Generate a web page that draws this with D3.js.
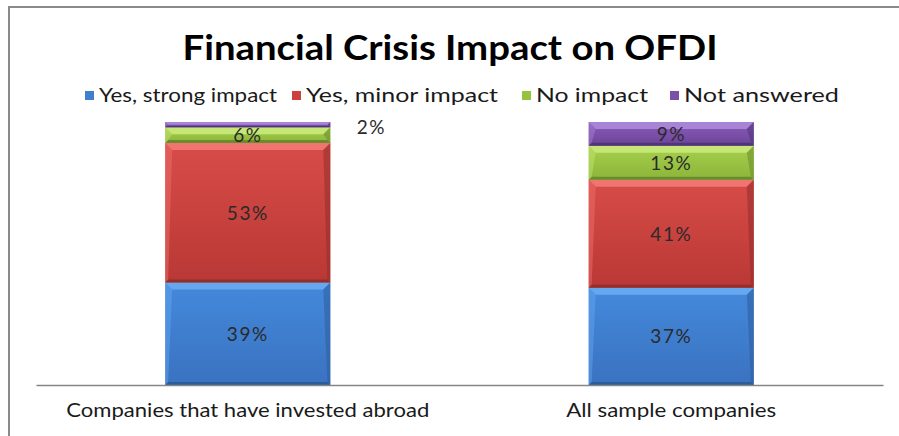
<!DOCTYPE html>
<html>
<head>
<meta charset="utf-8">
<script src="https://cdn.jsdelivr.net/npm/d3@7"></script>
<style>
  body { margin: 0; background: #fff; }
  svg { display: block; }
  text { font-family: Lato, "Open Sans", sans-serif; }
</style>
</head>
<body>
<svg id="chart" width="899" height="436"></svg>
<script>
// Survey: has the financial crisis affected outward FDI plans?
const categories = ["Companies that have invested abroad", "All sample companies"];
const seriesNames = ["Yes, strong impact", "Yes, minor impact", "No impact", "Not answered"];
const strongImpact = [39, 37];
const minorImpact = [53, 41];
const noImpact = [6, 13];
const notAnswered = [2, 9];
const seriesKeys = ["strong", "minor", "none", "na"];

// Bevelled fills for each series: face top, face bottom, top bevel, bottom bevel, legend swatch
const palette = {
  strong: { top: "#4489dc", bottom: "#3a72c0", bevel: "#66a8f0", dark: "#2d5c9c", legend: "#3f7fd0" },
  minor:  { top: "#d84c48", bottom: "#b93835", bevel: "#f07470", dark: "#922e2c", legend: "#cc4040" },
  none:   { top: "#a6d04c", bottom: "#8cb53a", bevel: "#c6e676", dark: "#6a8c2c", legend: "#99c23c" },
  na:     { top: "#8a5cba", bottom: "#6c4498", bevel: "#a884d6", dark: "#51357a", legend: "#7a50a8" }
};

const rows = categories.map((c, i) => ({
  category: c,
  strong: strongImpact[i],
  minor: minorImpact[i],
  none: noImpact[i],
  na: notAnswered[i]
}));

const svg = d3.select("#chart");
const W = 899, H = 436;

const defs = svg.append("defs");
seriesKeys.forEach(k => {
  const g = defs.append("linearGradient")
    .attr("id", "grad-" + k)
    .attr("x1", 0).attr("y1", 0).attr("x2", 0).attr("y2", 1);
  g.append("stop").attr("offset", "0%").attr("stop-color", palette[k].top);
  g.append("stop").attr("offset", "100%").attr("stop-color", palette[k].bottom);
});

// Chart frame
svg.append("rect")
  .attr("x", 9).attr("y", 7)
  .attr("width", W + 10).attr("height", H + 10)
  .attr("fill", "none")
  .attr("stroke", "#8a8a8a")
  .attr("stroke-width", 2);

// Title
svg.append("text")
  .attr("x", 450).attr("y", 60)
  .attr("text-anchor", "middle")
  .attr("font-size", 35)
  .attr("font-weight", "bold")
  .attr("fill", "#000")
  .attr("textLength", 535)
  .attr("lengthAdjust", "spacingAndGlyphs")
  .text("Financial Crisis Impact on OFDI");

// Legend
const legendX = [85, 292, 522, 670];
const legendTextW = [178, 192, 112, 155];
const legend = svg.append("g");
seriesKeys.forEach((k, i) => {
  const g = legend.append("g").attr("transform", `translate(${legendX[i]},0)`);
  g.append("rect")
    .attr("x", 0).attr("y", 91)
    .attr("width", 9).attr("height", 9)
    .attr("fill", palette[k].legend);
  g.append("text")
    .attr("x", 14).attr("y", 102)
    .attr("font-size", 19)
    .attr("fill", "#1a1a1a")
    .attr("textLength", legendTextW[i])
    .attr("lengthAdjust", "spacingAndGlyphs")
    .text(seriesNames[i]);
});

// Scales
const x = d3.scaleBand()
  .domain(categories)
  .range([36, 883])
  .paddingInner(0.61)
  .paddingOuter(0.305);

const y = d3.scaleLinear()
  .domain([0, 100])
  .range([385, 122]);

const stack = d3.stack().keys(seriesKeys);
const layers = stack(rows);

// Bars with bevelled faces
const plot = svg.append("g");
layers.forEach(layer => {
  const k = layer.key;
  const c = palette[k];
  layer.forEach(d => {
    const x0 = x(d.data.category);
    const w = x.bandwidth();
    const yTop = y(d[1]);
    const yBot = y(d[0]);
    const h = yBot - yTop;
    const b = Math.min(7, h / 2);
    const bb = Math.min(3, h / 4);
    const seg = plot.append("g");
    seg.append("rect")
      .attr("x", x0).attr("y", yTop)
      .attr("width", w).attr("height", h)
      .attr("fill", `url(#grad-${k})`);
    // top bevel
    seg.append("polygon")
      .attr("points", [
        [x0, yTop], [x0 + w, yTop], [x0 + w - b, yTop + b], [x0 + b, yTop + b]
      ].map(p => p.join(",")).join(" "))
      .attr("fill", c.bevel);
    // bottom bevel
    seg.append("polygon")
      .attr("points", [
        [x0, yBot], [x0 + w, yBot], [x0 + w - bb, yBot - bb], [x0 + bb, yBot - bb]
      ].map(p => p.join(",")).join(" "))
      .attr("fill", c.dark);
    // right side shade
    seg.append("polygon")
      .attr("points", [
        [x0 + w, yTop], [x0 + w, yBot], [x0 + w - bb, yBot - bb], [x0 + w - b, yTop + b]
      ].map(p => p.join(",")).join(" "))
      .attr("fill", c.dark)
      .attr("opacity", 0.55);
    // left side shade
    seg.append("polygon")
      .attr("points", [
        [x0, yTop], [x0, yBot], [x0 + bb, yBot - bb], [x0 + b, yTop + b]
      ].map(p => p.join(",")).join(" "))
      .attr("fill", c.bevel)
      .attr("opacity", 0.45);
  });
});

// Data labels (small segments are labelled beside the bar)
const labels = svg.append("g");
layers.forEach(layer => {
  layer.forEach(d => {
    const v = d[1] - d[0];
    const h = y(d[0]) - y(d[1]);
    const outside = h < 10;
    const cx = outside ? x(d.data.category) + x.bandwidth() + 41
                       : x(d.data.category) + x.bandwidth() / 2;
    const cy = outside ? (y(d[1]) + y(d[0])) / 2 + 3
                       : (y(d[1]) + y(d[0])) / 2;
    labels.append("text")
      .attr("x", cx).attr("y", cy)
      .attr("dy", "0.36em")
      .attr("text-anchor", "middle")
      .attr("font-size", 19)
      .attr("letter-spacing", 1.5)
      .attr("fill", "#2a2a2a")
      .text(v + "%");
  });
});

// Category axis
const axisLabelW = [363, 210];
const axis = svg.append("g")
  .attr("transform", `translate(0,${y(0)})`)
  .call(d3.axisBottom(x).tickSize(0).tickSizeOuter(0).tickPadding(18));
axis.select(".domain").attr("stroke", "#868686").attr("stroke-width", 1.5);
axis.selectAll(".tick text")
  .attr("font-size", 20)
  .attr("fill", "#1a1a1a")
  .attr("textLength", (d, i) => axisLabelW[i])
  .attr("lengthAdjust", "spacingAndGlyphs")
  .style("font-family", "Lato, 'Open Sans', sans-serif");
</script>
</body>
</html>
